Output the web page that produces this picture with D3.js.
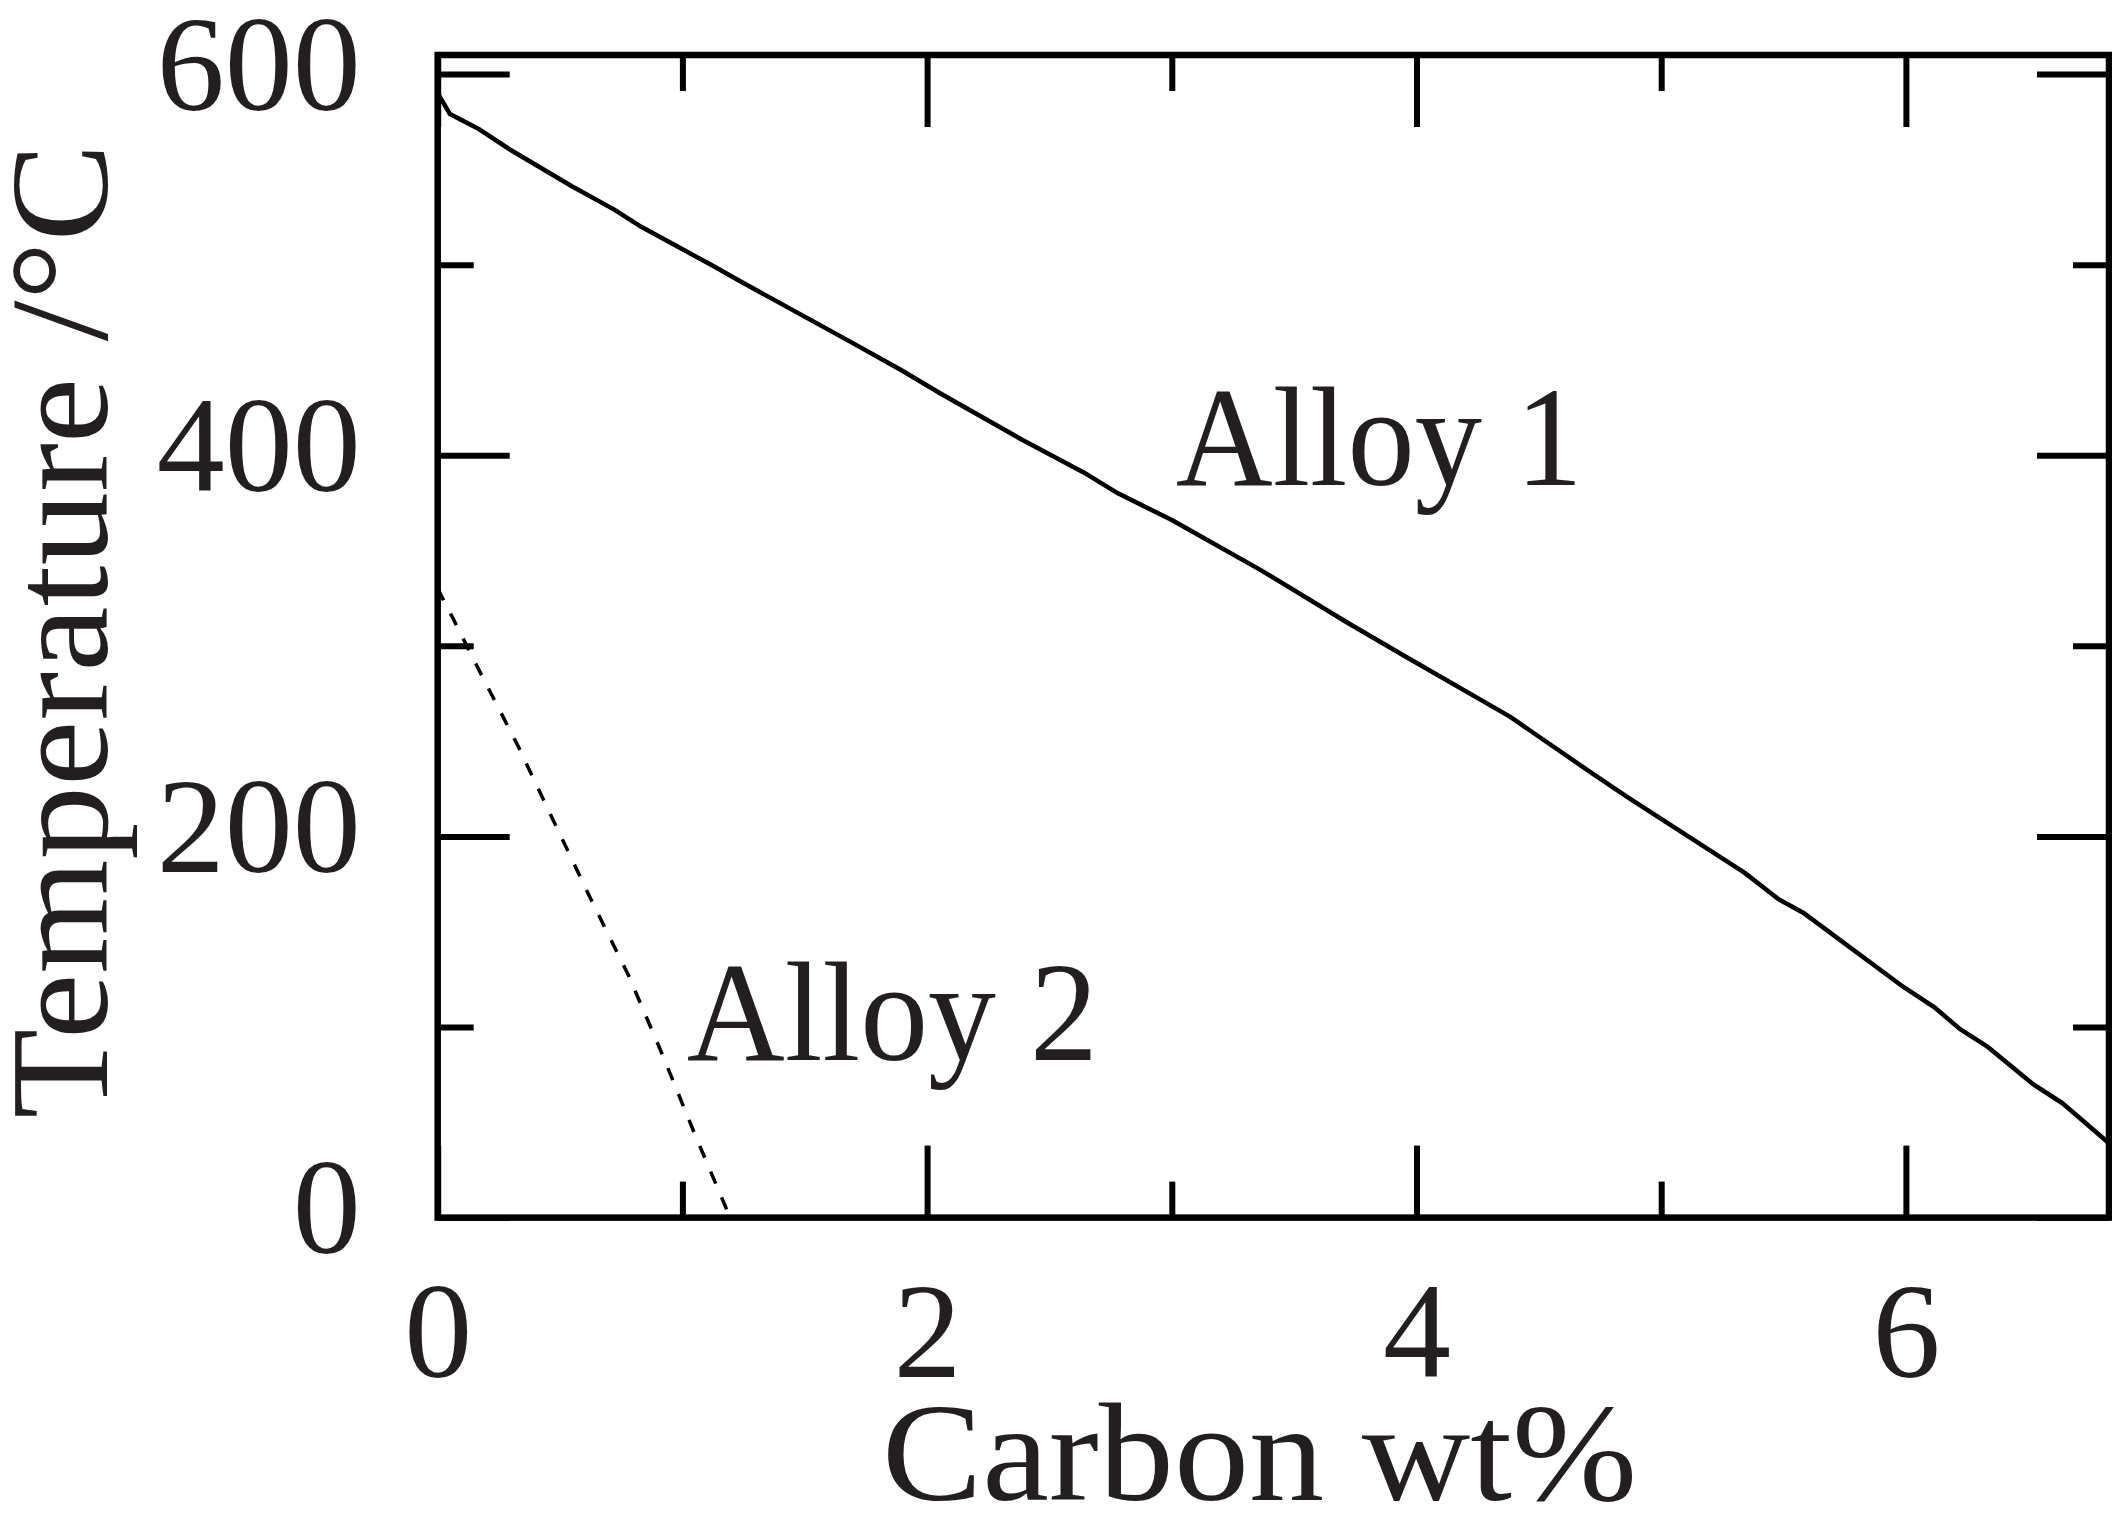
<!DOCTYPE html>
<html>
<head>
<meta charset="utf-8">
<script src="https://cdn.jsdelivr.net/npm/d3@7"></script>
<style>
  body { margin: 0; background: #fff; }
  text { font-family: "Liberation Serif", "DejaVu Serif", serif; fill: #231f20; }
</style>
</head>
<body>
<div id="chart"></div>
<script>
// Alloy 1 (solid): carbon wt% / temperature
var carbon1 = [0, 0.05, 0.17, 0.30, 0.55, 0.72, 0.83, 1.13, 1.24, 1.68, 1.82, 1.89, 2.06, 2.39, 2.64, 2.78, 3.0, 3.36, 3.72, 3.96, 4.38, 4.73, 4.87, 5.34, 5.48, 5.58, 5.99, 6.12, 6.22, 6.33, 6.52, 6.64, 6.74, 6.83];
var temp1 =   [590, 579, 571, 560, 541, 529, 520, 499, 491, 460, 450, 445, 432, 408, 391, 380, 366, 340, 312, 294, 263, 232, 220, 181, 167, 160, 121, 110, 99, 90, 70, 60, 49, 39];

// Alloy 2 (dashed)
var carbon2 = [0, 0.064, 0.17, 0.33, 0.47, 0.63, 0.78, 0.92, 1.05, 1.195];
var temp2 =   [330, 314, 287, 247, 209, 166, 127, 85, 44, 0];

var seriesNames = ["Alloy 1", "Alloy 2"];

var xMajor = [0, 2, 4, 6];
var xMinor = [1, 3, 5];
var yMajor = [0, 200, 400, 600];
var yMinor = [100, 300, 500];

var svgWidth = 2112;
var svgHeight = 1516;
var margin = { top: 55, right: 3, bottom: 298.4, left: 437.7 };
var chartWidth = svgWidth - margin.left - margin.right;
var chartHeight = svgHeight - margin.top - margin.bottom;

var svg = d3.select("#chart")
  .append("svg")
  .attr("width", svgWidth)
  .attr("height", svgHeight);

var chartGroup = svg.append("g")
  .attr("transform", `translate(${margin.left}, ${margin.top})`);

var xScale = d3.scaleLinear().domain([0, 6.83]).range([0, chartWidth]);
var yScale = d3.scaleLinear().domain([0, 610]).range([chartHeight, 0]);

// ticks on all four sides, pointing inward
function styleAxis(g) {
  g.select(".domain").remove();
  g.selectAll(".tick line").attr("stroke", "#000").attr("stroke-width", 6);
}

chartGroup.append("g")
  .attr("transform", `translate(0, ${chartHeight})`)
  .call(d3.axisBottom(xScale).tickValues(xMajor).tickSize(-72).tickSizeOuter(0).tickFormat(d3.format("d")))
  .call(styleAxis)
  .selectAll("text")
  .attr("y", 159)
  .attr("dy", 0)
  .attr("font-size", 136);

chartGroup.append("g")
  .attr("transform", `translate(0, ${chartHeight})`)
  .call(d3.axisBottom(xScale).tickValues(xMinor).tickSize(-36).tickSizeOuter(0).tickFormat(""))
  .call(styleAxis);

chartGroup.append("g")
  .call(d3.axisTop(xScale).tickValues(xMajor).tickSize(-72).tickSizeOuter(0).tickFormat(""))
  .call(styleAxis);

chartGroup.append("g")
  .call(d3.axisTop(xScale).tickValues(xMinor).tickSize(-36).tickSizeOuter(0).tickFormat(""))
  .call(styleAxis);

chartGroup.append("g")
  .call(d3.axisLeft(yScale).tickValues(yMajor).tickSize(-72).tickSizeOuter(0).tickFormat(d3.format("d")))
  .call(styleAxis)
  .selectAll("text")
  .attr("x", -77)
  .attr("dy", 35)
  .attr("font-size", 136);

chartGroup.append("g")
  .call(d3.axisLeft(yScale).tickValues(yMinor).tickSize(-36).tickSizeOuter(0).tickFormat(""))
  .call(styleAxis);

chartGroup.append("g")
  .attr("transform", `translate(${chartWidth}, 0)`)
  .call(d3.axisRight(yScale).tickValues(yMajor).tickSize(-72).tickSizeOuter(0).tickFormat(""))
  .call(styleAxis);

chartGroup.append("g")
  .attr("transform", `translate(${chartWidth}, 0)`)
  .call(d3.axisRight(yScale).tickValues(yMinor).tickSize(-36).tickSizeOuter(0).tickFormat(""))
  .call(styleAxis);

// frame
chartGroup.append("rect")
  .attr("x", 0)
  .attr("y", 0)
  .attr("width", chartWidth)
  .attr("height", chartHeight)
  .attr("fill", "none")
  .attr("stroke", "#000")
  .attr("stroke-width", 6.5);

var line = d3.line()
  .x(d => xScale(d[0]))
  .y(d => yScale(d[1]));

chartGroup.append("path")
  .datum(d3.zip(carbon1, temp1))
  .attr("d", line)
  .attr("fill", "none")
  .attr("stroke", "#000")
  .attr("stroke-width", 4.5)
  .attr("stroke-linejoin", "round");

chartGroup.append("path")
  .datum(d3.zip(carbon2, temp2))
  .attr("d", line)
  .attr("fill", "none")
  .attr("stroke", "#000")
  .attr("stroke-width", 3.5)
  .attr("stroke-dasharray", "13,15");

// series labels
chartGroup.append("text")
  .attr("x", xScale(3.016))
  .attr("y", yScale(384.4))
  .attr("font-size", 142)
  .attr("textLength", 407)
  .attr("lengthAdjust", "spacingAndGlyphs")
  .text(seriesNames[0]);

chartGroup.append("text")
  .attr("x", xScale(1.018))
  .attr("y", yScale(82.7))
  .attr("font-size", 142)
  .attr("textLength", 411)
  .attr("lengthAdjust", "spacingAndGlyphs")
  .text(seriesNames[1]);

// axis titles
svg.append("text")
  .attr("x", 1259.5)
  .attr("y", 1500)
  .attr("text-anchor", "middle")
  .attr("font-size", 140)
  .attr("textLength", 755)
  .attr("lengthAdjust", "spacingAndGlyphs")
  .text("Carbon wt%");

svg.append("text")
  .attr("transform", "translate(107, 631) rotate(-90)")
  .attr("text-anchor", "middle")
  .attr("font-size", 140)
  .attr("textLength", 975)
  .attr("lengthAdjust", "spacingAndGlyphs")
  .text("Temperature /°C");
</script>
</body>
</html>
